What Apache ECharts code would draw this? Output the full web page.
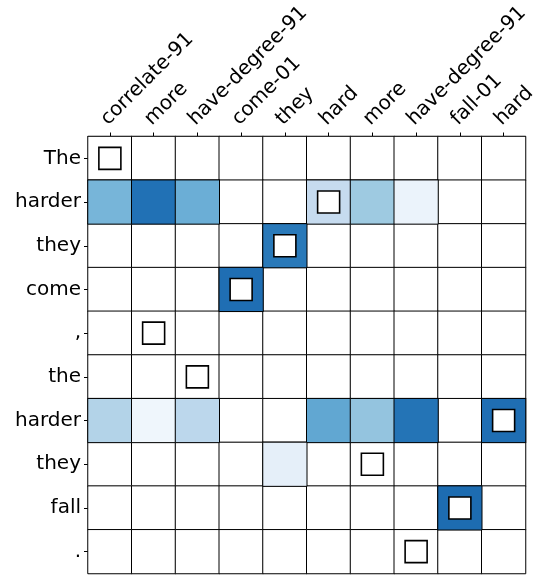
<!DOCTYPE html>
<html>
<head>
<meta charset="utf-8">
<script src="https://cdn.jsdelivr.net/npm/echarts@6/dist/echarts.min.js"></script>
<style>html,body{margin:0;padding:0;background:#fff}#c{width:538px;height:579px}</style>
</head>
<body>
<div id="c"></div>
<script>
const colLabels = ['correlate-91','more','have-degree-91','come-01','they','hard','more','have-degree-91','fall-01','hard'];
const rowLabels = ['The','harder','they','come',',','the','harder','they','fall','.'];
// non-zero attention values: [row, col, value]
const cells = [
  [1,0,0.47],[1,1,0.75],[1,2,0.50],[1,5,0.25],[1,6,0.375],[1,7,0.06],
  [2,4,0.72],
  [3,3,0.76],
  [6,0,0.31],[6,1,0.04],[6,2,0.28],[6,5,0.53],[6,6,0.40],[6,7,0.74],[6,9,0.76],
  [7,4,0.09],
  [8,8,0.77]
];
// alignment boxes: [row, col]
const boxes = [[0,0],[1,5],[2,4],[3,3],[4,1],[5,2],[6,9],[7,6],[8,8],[9,7]];

const blank = [];
for (let r = 0; r < rowLabels.length; r++) {
  for (let c = 0; c < colLabels.length; c++) blank.push([c, r, 0]);
}
const heat = cells.map(d => [d[1], d[0], d[2]]);
const boxData = boxes.map(b => [b[1], b[0]]);

const chart = echarts.init(document.getElementById('c'));
const font = 'DejaVu Sans';
chart.setOption({
  animation: false,
  backgroundColor: '#fff',
  grid: {left: 88, top: 136.5, width: 437.5, height: 437, containLabel: false, outerBoundsMode: 'none'},
  xAxis: {
    type: 'category', position: 'top', data: colLabels,
    axisLine: {show: true, lineStyle: {color: '#000', width: 1}},
    axisTick: {show: true, alignWithLabel: true, length: 4, lineStyle: {color: '#000'}},
    axisLabel: {rotate: -45, interval: 0, fontFamily: font, fontSize: 20, color: '#000', margin: 3,
                verticalAlign: 'bottom', padding: [0, 0, 2, 4]},
    splitLine: {show: false}
  },
  yAxis: {
    type: 'category', inverse: true, data: rowLabels,
    axisLine: {show: true, lineStyle: {color: '#000', width: 1}},
    axisTick: {show: true, alignWithLabel: true, length: 4, lineStyle: {color: '#000'}},
    axisLabel: {interval: 0, fontFamily: font, fontSize: 20, color: '#000', margin: 7},
    splitLine: {show: false}
  },
  visualMap: {
    show: false, seriesIndex: 1, min: 0, max: 1, dimension: 2,
    inRange: {color: ['#f7fbff','#deebf7','#c6dbef','#9ecae1','#6baed6','#4292c6','#2171b5','#08519c','#08306b']}
  },
  series: [
    {
      type: 'heatmap', data: blank,
      itemStyle: {color: '#ffffff', borderColor: '#000', borderWidth: 1},
      emphasis: {disabled: true}
    },
    {
      type: 'heatmap', data: heat,
      itemStyle: {borderColor: '#000', borderWidth: 1},
      emphasis: {disabled: true}
    },
    {
      type: 'scatter', data: boxData, symbol: 'rect', symbolSize: 22,
      itemStyle: {color: '#fff', borderColor: '#000', borderWidth: 1.6, opacity: 1},
      z: 5
    }
  ]
});
</script>
</body>
</html>
